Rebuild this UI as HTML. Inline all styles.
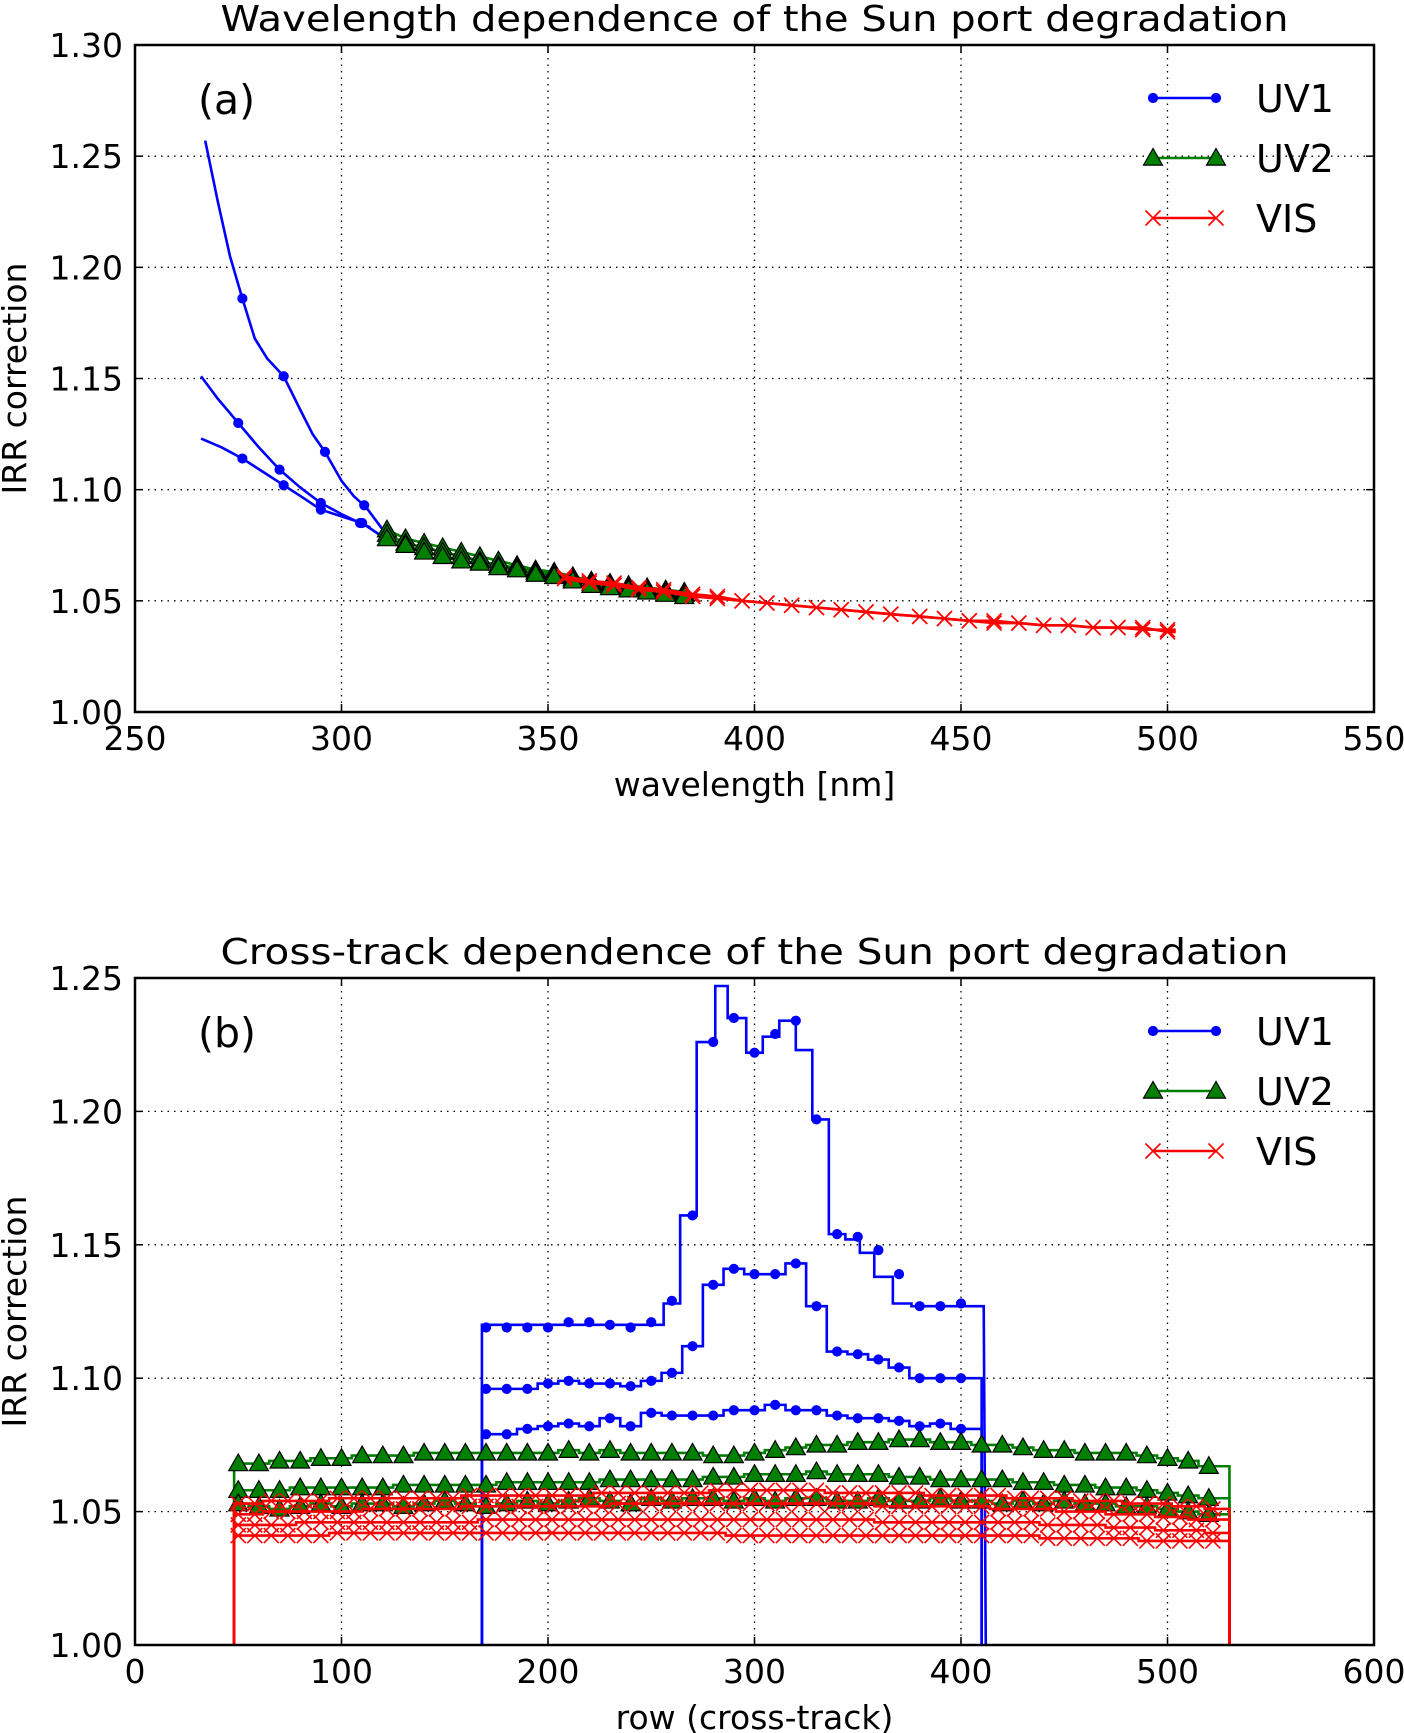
<!DOCTYPE html>
<html><head><meta charset="utf-8"><style>
html,body{margin:0;padding:0;background:#fff;}
svg{display:block;font-family:"DejaVu Sans","Liberation Sans",sans-serif;}
</style></head><body>
<svg id="fig" width="1404" height="1733" viewBox="0 0 1404 1733" xmlns="http://www.w3.org/2000/svg"></svg>
<script>
// ---------- Panel (a) data ----------
const aXTicks = [250,300,350,400,450,500,550];
const aYTicks = [1.00,1.05,1.10,1.15,1.20,1.25,1.30];
const aYTickLabels = ["1.00","1.05","1.10","1.15","1.20","1.25","1.30"];
const uv1aLineX1 = [267,270,273,276,279,282,286,290,293,296,300,303,306,310];
const uv1aLineY1 = [1.257,1.230,1.205,1.186,1.168,1.159,1.151,1.136,1.125,1.117,1.104,1.097,1.092,1.082];
const uv1aMarkX1 = [276,286,296,305.5];
const uv1aMarkY1 = [1.186,1.151,1.117,1.093];
const uv1aLineX2 = [266,270,275,280,285,290,295,300,304.5,307];
const uv1aLineY2 = [1.151,1.141,1.130,1.119,1.109,1.101,1.094,1.089,1.085,1.083];
const uv1aMarkX2 = [275,285,295,304.5];
const uv1aMarkY2 = [1.130,1.109,1.094,1.085];
const uv1aLineX3 = [266,271,276,281,286,291,295,300,305,309];
const uv1aLineY3 = [1.123,1.119,1.114,1.108,1.102,1.096,1.091,1.088,1.085,1.080];
const uv1aMarkX3 = [276,286,295,305];
const uv1aMarkY3 = [1.114,1.102,1.091,1.085];
const uv2aX = [311,315.5,320,324.5,329,333.5,338,342.5,347,351.5,356,360.5,365,369.5,374,378.5,383];
const uv2aY1 = [1.082,1.078,1.076,1.074,1.072,1.070,1.068,1.066,1.064,1.063,1.061,1.059,1.058,1.057,1.056,1.055,1.054];
const uv2aY2 = [1.080,1.076,1.074,1.072,1.070,1.068,1.066,1.065,1.063,1.062,1.060,1.058,1.057,1.056,1.055,1.054,1.053];
const uv2aY3 = [1.078,1.075,1.072,1.070,1.068,1.067,1.065,1.064,1.062,1.061,1.059,1.057,1.056,1.055,1.054,1.053,1.052];
const visaX = [354,360,366,372,378,385,391,397,403,409,415,421,427,433,440,446,452,458,464,470,476,482,488,494,500];
const visaY1 = [1.061,1.059,1.058,1.056,1.055,1.053,1.052,1.050,1.049,1.048,1.047,1.046,1.045,1.044,1.043,1.042,1.041,1.041,1.040,1.039,1.039,1.038,1.038,1.037,1.037];
const visaY2 = [1.060,1.058,1.057,1.055,1.054,1.052,1.051,1.050,1.049,1.048,1.047,1.046,1.045,1.044,1.043,1.042,1.041,1.040,1.040,1.039,1.039,1.038,1.038,1.038,1.036];

// ---------- Panel (b) data ----------
const bXTicks = [0,100,200,300,400,500,600];
const bYTicks = [1.00,1.05,1.10,1.15,1.20,1.25];
const bYTickLabels = ["1.00","1.05","1.10","1.15","1.20","1.25"];
const uv1bRows = [170,180,190,200,210,220,230,240,250,260,270,280,290,300,310,320,330,340,350,360,370,380,390,400];
const uv1bTop = [1.119,1.119,1.119,1.119,1.121,1.121,1.120,1.119,1.121,1.129,1.161,1.226,1.235,1.222,1.229,1.234,1.197,1.154,1.153,1.148,1.139,1.127,1.127,1.128];
const uv1bTopStepRows = [168,256,264,272,281,287,296,304,312,320,328,336,344,351,358,367,376,410];
const uv1bTopStepVals = [1.120,1.128,1.161,1.226,1.247,1.235,1.222,1.228,1.234,1.223,1.197,1.154,1.152,1.147,1.138,1.128,1.127,1.127];
const uv1bMid = [1.096,1.096,1.096,1.098,1.099,1.098,1.098,1.097,1.099,1.102,1.112,1.135,1.141,1.139,1.139,1.143,1.127,1.110,1.109,1.107,1.104,1.100,1.100,1.100];
const uv1bLow = [1.079,1.079,1.081,1.082,1.083,1.082,1.085,1.082,1.087,1.086,1.086,1.086,1.088,1.088,1.090,1.088,1.088,1.086,1.085,1.085,1.084,1.082,1.083,1.081];
const rows10 = [50,60,70,80,90,100,110,120,130,140,150,160,170,180,190,200,210,220,230,240,250,260,270,280,290,300,310,320,330,340,350,360,370,380,390,400,410,420,430,440,450,460,470,480,490,500,510,520];
const uv2bA = [1.068,1.068,1.069,1.069,1.070,1.070,1.071,1.071,1.071,1.072,1.072,1.072,1.072,1.072,1.072,1.072,1.073,1.072,1.073,1.072,1.072,1.072,1.072,1.071,1.071,1.072,1.073,1.074,1.075,1.075,1.076,1.076,1.077,1.077,1.076,1.076,1.075,1.075,1.074,1.073,1.073,1.072,1.072,1.072,1.071,1.070,1.069,1.067];
const uv2bB = [1.058,1.058,1.058,1.059,1.059,1.059,1.059,1.059,1.060,1.060,1.060,1.060,1.060,1.061,1.061,1.061,1.061,1.061,1.062,1.062,1.062,1.062,1.062,1.063,1.063,1.064,1.064,1.064,1.065,1.064,1.064,1.064,1.063,1.063,1.062,1.062,1.062,1.062,1.061,1.061,1.060,1.060,1.059,1.059,1.058,1.057,1.056,1.055];
const uv2bC = [1.053,1.052,1.051,1.052,1.053,1.052,1.053,1.053,1.052,1.053,1.054,1.053,1.052,1.053,1.054,1.053,1.054,1.055,1.054,1.053,1.055,1.054,1.055,1.055,1.054,1.055,1.054,1.055,1.055,1.054,1.054,1.055,1.054,1.054,1.055,1.054,1.054,1.053,1.054,1.053,1.054,1.053,1.053,1.052,1.052,1.051,1.050,1.049];
const rows8 = [50,58,66,74,82,90,98,106,114,122,130,138,146,154,162,170,178,186,194,202,210,218,226,234,242,250,258,266,274,282,290,298,306,314,322,330,338,346,354,362,370,378,386,394,402,410,418,426,434,442,450,458,466,474,482,490,498,506,514,522];
const visB1 = [1.053,1.053,1.054,1.054,1.054,1.054,1.055,1.055,1.055,1.055,1.055,1.055,1.055,1.055,1.056,1.056,1.056,1.056,1.056,1.056,1.056,1.056,1.057,1.057,1.057,1.057,1.057,1.057,1.057,1.058,1.058,1.058,1.058,1.058,1.058,1.058,1.057,1.057,1.057,1.057,1.057,1.057,1.056,1.056,1.056,1.056,1.056,1.055,1.055,1.055,1.055,1.054,1.054,1.054,1.053,1.053,1.053,1.052,1.052,1.051];
const visB2 = [1.049,1.049,1.050,1.050,1.050,1.050,1.050,1.050,1.051,1.051,1.051,1.051,1.051,1.051,1.052,1.052,1.052,1.052,1.052,1.052,1.052,1.052,1.052,1.053,1.053,1.053,1.053,1.053,1.053,1.053,1.053,1.053,1.053,1.053,1.053,1.053,1.053,1.053,1.053,1.052,1.052,1.052,1.052,1.052,1.052,1.052,1.051,1.051,1.051,1.051,1.050,1.050,1.050,1.049,1.049,1.049,1.048,1.048,1.047,1.047];
const visB3 = [1.045,1.045,1.045,1.045,1.046,1.046,1.046,1.046,1.046,1.046,1.046,1.046,1.046,1.046,1.046,1.047,1.047,1.047,1.047,1.047,1.047,1.047,1.047,1.047,1.047,1.047,1.047,1.047,1.047,1.047,1.047,1.047,1.047,1.047,1.047,1.047,1.047,1.047,1.047,1.046,1.046,1.046,1.046,1.046,1.046,1.046,1.046,1.046,1.046,1.045,1.045,1.045,1.045,1.044,1.044,1.044,1.043,1.043,1.043,1.042];
const visB4 = [1.041,1.041,1.041,1.041,1.041,1.041,1.042,1.042,1.042,1.042,1.042,1.042,1.042,1.042,1.042,1.042,1.042,1.042,1.042,1.042,1.042,1.042,1.042,1.042,1.042,1.042,1.042,1.042,1.042,1.042,1.041,1.041,1.041,1.041,1.041,1.041,1.041,1.041,1.041,1.041,1.041,1.041,1.041,1.041,1.041,1.041,1.041,1.041,1.041,1.040,1.040,1.040,1.040,1.040,1.040,1.039,1.039,1.039,1.039,1.039];

const NS = "http://www.w3.org/2000/svg";
const svg = document.getElementById("fig");
const BLUE = "#0000ff", GREEN = "#008000", RED = "#ff0000";

function mk(tag, attrs, parent) {
  const e = document.createElementNS(NS, tag);
  for (const k in attrs) e.setAttribute(k, attrs[k]);
  (parent || svg).appendChild(e);
  return e;
}
function txt(s, attrs, parent) { const t = mk("text", attrs, parent); t.textContent = s; return t; }

function makeAxes(cfg) {
  const L = 135, R = 1374, T = cfg.top, B = cfg.top + 667;
  const sx = v => L + (v - cfg.x0) / (cfg.x1 - cfg.x0) * (R - L);
  const sy = v => B - (v - cfg.y0) / (cfg.y1 - cfg.y0) * (B - T);
  const g = mk("g", {});
  
  
  const grid = mk("g", {stroke:"#000","stroke-width":1.3,"stroke-dasharray":"1.5,5"}, g);
  
  
  cfg.xTicks.forEach(v => { if (v>cfg.x0 && v<cfg.x1) mk("line",{x1:sx(v),x2:sx(v),y1:T,y2:B},grid); });
  cfg.yTicks.forEach(v => { if (v>cfg.y0 && v<cfg.y1) mk("line",{x1:L,x2:R,y1:sy(v),y2:sy(v)},grid); });
  const xt = mk("g", {"font-size":33, "text-anchor":"middle"}, g);
  
  
  cfg.xTicks.forEach(v => {
    const t = txt(String(v), {x:sx(v), y:B+38}, xt);
    
    
    mk("line",{x1:sx(v),x2:sx(v),y1:B,y2:B-8,stroke:"#000","stroke-width":1.5},g);
    mk("line",{x1:sx(v),x2:sx(v),y1:T,y2:T+8,stroke:"#000","stroke-width":1.5},g);
  });
  const yt = mk("g", {"font-size":33, "text-anchor":"end"}, g);
  
  
  cfg.yTicks.forEach((v,i) => {
    const t = txt(cfg.yLabels[i], {x:L-12, y:sy(v)+12}, yt);
    
    
    mk("line",{x1:L,x2:L+8,y1:sy(v),y2:sy(v),stroke:"#000","stroke-width":1.5},g);
    mk("line",{x1:R,x2:R-8,y1:sy(v),y2:sy(v),stroke:"#000","stroke-width":1.5},g);
  });
  const title = txt(cfg.title, {x:(L+R)/2, y:T-14, "font-size":36, "text-anchor":"middle", textLength:1068, lengthAdjust:"spacingAndGlyphs"}, g);
  
  
  const xl = txt(cfg.xLabel, {x:(L+R)/2, y:B+84, "font-size":33, "text-anchor":"middle"}, g);
  
  
  const yl = txt("IRR correction", {x:0, y:0, "font-size":33, "text-anchor":"middle", transform:`translate(26,${(T+B)/2}) rotate(-90)`}, g);
  
  
  const pl = txt(cfg.panel, {x:198, y:T+69, "font-size":41}, g);
  
  
  const clipId = cfg.name + "-clip";
  const cp = mk("clipPath", {id:clipId}, g);
  mk("rect", {x:L, y:T-10, width:R-L, height:B-T+10}, cp);
  const plot = mk("g", {"clip-path":`url(#${clipId})`}, g);
  
  
  return {g, plot, sx, sy, L, R, T, B};
}

function frame(ax) {
  const f = mk("rect", {x:ax.L, y:ax.T, width:ax.R-ax.L, height:ax.B-ax.T, fill:"none", stroke:"#000", "stroke-width":2.5}, ax.g);
  
  
}

function dot(p, x, y) { mk("circle", {cx:x, cy:y, r:4.6, fill:BLUE, stroke:BLUE, "stroke-width":1}, p); }
function tri(p, x, y) { const s=9.5; mk("polygon", {points:`${x},${y-s} ${x-s},${y+s*0.75} ${x+s},${y+s*0.75}`, fill:GREEN, stroke:"#000", "stroke-width":1.2}, p); }
function cross(p, x, y) { const s=7.5; mk("path", {d:`M${x-s},${y-s}L${x+s},${y+s}M${x-s},${y+s}L${x+s},${y-s}`, stroke:RED, "stroke-width":1.6, fill:"none"}, p); }

function polyline(p, xs, ys, ax, color, name) {
  const pts = xs.map((x,i)=>`${ax.sx(x)},${ax.sy(ys[i])}`).join(" ");
  const l = mk("polyline", {points:pts, fill:"none", stroke:color, "stroke-width":2.6, "stroke-linejoin":"round"}, p);
  
  
}
function markers(p, xs, ys, ax, fn, name) {
  const g = mk("g", {}, p);
  
  
  xs.forEach((x,i)=>fn(g, ax.sx(x), ax.sy(ys[i])));
}
function stepMid(p, rows, vals, start, end, base, ax, color, name) {
  let d = `M${ax.sx(start)},${ax.sy(base)}L${ax.sx(start)},${ax.sy(vals[0])}`;
  for (let i=0;i<rows.length-1;i++){
    const m = (rows[i]+rows[i+1])/2;
    d += `L${ax.sx(m)},${ax.sy(vals[i])}L${ax.sx(m)},${ax.sy(vals[i+1])}`;
  }
  d += `L${ax.sx(end)},${ax.sy(vals[vals.length-1])}L${ax.sx(end)},${ax.sy(base)}`;
  const l = mk("path", {d, fill:"none", stroke:color, "stroke-width":2.6, "stroke-linejoin":"miter"}, p);
  
  
}
function stepPost(p, rows, vals, base, ax, color, name) {
  let d = `M${ax.sx(rows[0])},${ax.sy(base)}`;
  for (let i=0;i<rows.length;i++){
    d += `L${ax.sx(rows[i])},${ax.sy(i>0?vals[i-1]:base)}L${ax.sx(rows[i])},${ax.sy(vals[i])}`;
  }
  const last = rows[rows.length-1];
  d += `L${ax.sx(last+1)},${ax.sy(vals[vals.length-1])}L${ax.sx(last+2)},${ax.sy(base)}`;
  const l = mk("path", {d, fill:"none", stroke:color, "stroke-width":2.6}, p);
  
  
}

function legend(ax, top) {
  const g = mk("g", {}, ax.g);
  
  
  const entries = [["UV1",BLUE,dot],["UV2",GREEN,tri],["VIS",RED,cross]];
  entries.forEach((e,i)=>{
    const y = top + i*60;
    const eg = mk("g", {}, g);
    
    
    mk("line", {x1:1153, x2:1216, y1:y, y2:y, stroke:e[1], "stroke-width":2.6}, eg);
    e[2](eg, 1153, y); e[2](eg, 1216, y);
    txt(e[0], {x:1256, y:y+14, "font-size":38}, eg);
  });
}

// ---------- Panel (a) ----------
const A = makeAxes({name:"panel-a", top:45, x0:250, x1:550, y0:1.0, y1:1.3, xTicks:aXTicks, yTicks:aYTicks, yLabels:aYTickLabels,
  title:"Wavelength dependence of the Sun port degradation", xLabel:"wavelength [nm]", panel:"(a)"});
polyline(A.plot, uv1aLineX1, uv1aLineY1, A, BLUE, "uv1-line-1");
polyline(A.plot, uv1aLineX2, uv1aLineY2, A, BLUE, "uv1-line-2");
polyline(A.plot, uv1aLineX3, uv1aLineY3, A, BLUE, "uv1-line-3");
markers(A.plot, uv1aMarkX1, uv1aMarkY1, A, dot, "uv1-markers-1");
markers(A.plot, uv1aMarkX2, uv1aMarkY2, A, dot, "uv1-markers-2");
markers(A.plot, uv1aMarkX3, uv1aMarkY3, A, dot, "uv1-markers-3");
[[uv2aY1,"1"],[uv2aY2,"2"],[uv2aY3,"3"]].forEach(s=>{ polyline(A.plot, uv2aX, s[0], A, GREEN, "uv2-line-"+s[1]); });
[[uv2aY1,"1"],[uv2aY2,"2"],[uv2aY3,"3"]].forEach(s=>{ markers(A.plot, uv2aX, s[0], A, tri, "uv2-markers-"+s[1]); });
[[visaY1,"1"],[visaY2,"2"]].forEach(s=>{ polyline(A.plot, visaX.concat([502]), s[0].concat([s[0][s[0].length-1]]), A, RED, "vis-line-"+s[1]); markers(A.plot, visaX, s[0], A, cross, "vis-markers-"+s[1]); });
frame(A);
legend(A, 98);

// ---------- Panel (b) ----------
const Bx = makeAxes({name:"panel-b", top:978, x0:0, x1:600, y0:1.0, y1:1.25, xTicks:bXTicks, yTicks:bYTicks, yLabels:bYTickLabels,
  title:"Cross-track dependence of the Sun port degradation", xLabel:"row (cross-track)", panel:"(b)"});
stepPost(Bx.plot, uv1bTopStepRows, uv1bTopStepVals, 1.0, Bx, BLUE, "uv1-line-top");
stepMid(Bx.plot, uv1bRows, uv1bMid, 168, 410, 1.0, Bx, BLUE, "uv1-line-mid");
stepMid(Bx.plot, uv1bRows, uv1bLow, 168, 410, 1.0, Bx, BLUE, "uv1-line-low");
markers(Bx.plot, uv1bRows, uv1bTop, Bx, dot, "uv1-markers-top");
markers(Bx.plot, uv1bRows, uv1bMid, Bx, dot, "uv1-markers-mid");
markers(Bx.plot, uv1bRows, uv1bLow, Bx, dot, "uv1-markers-low");
[[uv2bA,"a"],[uv2bB,"b"],[uv2bC,"c"]].forEach(s=>{ stepMid(Bx.plot, rows10, s[0], 48, 530, 1.0, Bx, GREEN, "uv2-line-"+s[1]); });
[[uv2bA,"a"],[uv2bB,"b"],[uv2bC,"c"]].forEach(s=>{ markers(Bx.plot, rows10, s[0], Bx, tri, "uv2-markers-"+s[1]); });
[[visB1,"1"],[visB2,"2"],[visB3,"3"],[visB4,"4"]].forEach(s=>{ stepMid(Bx.plot, rows8, s[0], 48, 530, 1.0, Bx, RED, "vis-line-"+s[1]); });
[[visB1,"1"],[visB2,"2"],[visB3,"3"],[visB4,"4"]].forEach(s=>{ markers(Bx.plot, rows8, s[0], Bx, cross, "vis-markers-"+s[1]); });
frame(Bx);
legend(Bx, 1031);
</script>
</body></html>
